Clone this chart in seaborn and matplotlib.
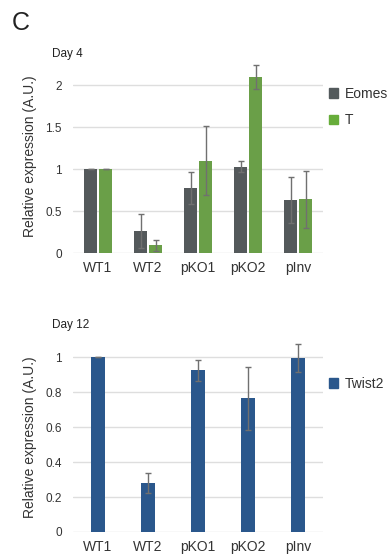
import matplotlib
matplotlib.use('Agg')
import matplotlib.pyplot as plt
import seaborn as sns
import pandas as pd
from matplotlib.patches import Patch

sns.set_style('white')
plt.rcParams['font.family'] = ['Liberation Sans', 'DejaVu Sans']

lines = ['WT1', 'WT2', 'pKO1', 'pKO2', 'pInv']

# day 4
eomes = [1.0, 0.26, 0.77, 1.03, 0.63]
eomes_err = [0.0, 0.20, 0.19, 0.07, 0.27]
t_vals = [1.0, 0.09, 1.10, 2.10, 0.64]
t_err = [0.0, 0.07, 0.41, 0.14, 0.34]

# day 12
twist2 = [1.0, 0.28, 0.925, 0.765, 0.995]
twist2_err = [0.0, 0.055, 0.06, 0.18, 0.08]

c_eomes = '#535a5c'
c_t = '#67ad3a'
c_twist = '#2a578c'
grid_c = '#dedede'
txt_c = '#333333'

df4 = pd.DataFrame({
    'line': lines * 2,
    'gene': ['Eomes'] * 5 + ['T'] * 5,
    'val': eomes + t_vals,
    'err': eomes_err + t_err,
})
df12 = pd.DataFrame({'line': lines, 'val': twist2, 'err': twist2_err})

W, H = 391, 556
fig = plt.figure(figsize=(W / 100, H / 100), dpi=100)
ax1 = fig.add_axes([73 / W, 1 - 253 / H, 250 / W, 193 / H])
ax2 = fig.add_axes([73 / W, 1 - 532 / H, 250 / W, 189 / H])


def style(ax, ticks, labels, top):
    ax.set_ylim(0, top)
    ax.set_xlim(-0.5, 4.5)
    ax.set_yticks(ticks)
    ax.set_yticklabels(labels)
    ax.grid(axis='y', color=grid_c, lw=1)
    ax.set_axisbelow(True)
    for s in ax.spines.values():
        s.set_visible(False)
    ax.tick_params(axis='y', length=0, pad=8, labelsize=8.5, labelcolor=txt_c)
    ax.tick_params(axis='x', length=0, pad=6, labelsize=10, labelcolor=txt_c)
    ax.set_xlabel('')
    ax.set_ylabel('Relative expression (A.U.)', fontsize=10, color=txt_c, labelpad=6)


# top panel
sns.barplot(data=df4, x='line', y='val', hue='gene', palette=[c_eomes, c_t],
            width=0.6, gap=0.1, errorbar=None, ax=ax1, legend=False)
for cont, g in zip(ax1.containers, ['Eomes', 'T']):
    sub = df4[df4.gene == g]
    xs = [p.get_x() + p.get_width() / 2 for p in cont.patches]
    ax1.errorbar(xs, sub.val, yerr=sub.err, fmt='none', ecolor='#707070',
                 elinewidth=1, capsize=2.5, capthick=1)
style(ax1, [0, 0.5, 1, 1.5, 2], ['0', '0.5', '1', '1.5', '2'], 2.3)
ax1.legend(handles=[Patch(color=c_eomes, label='Eomes'), Patch(color=c_t, label='T')],
           loc='upper left', bbox_to_anchor=(1.0, 0.89), frameon=False,
           handlelength=0.7, handleheight=0.7, handletextpad=0.5,
           labelspacing=0.9, fontsize=10, labelcolor=txt_c, borderaxespad=0)

# bottom panel
sns.barplot(data=df12, x='line', y='val', color=c_twist, width=0.28,
            errorbar=None, ax=ax2, saturation=1)
xs = [p.get_x() + p.get_width() / 2 for p in ax2.containers[0].patches]
ax2.errorbar(xs, df12.val, yerr=df12.err, fmt='none', ecolor='#707070',
             elinewidth=1, capsize=2.5, capthick=1)
style(ax2, [0, 0.2, 0.4, 0.6, 0.8, 1], ['0', '0.2', '0.4', '0.6', '0.8', '1'], 1.08)
ax2.legend(handles=[Patch(color=c_twist, label='Twist2')],
           loc='upper left', bbox_to_anchor=(1.0, 0.85), frameon=False,
           handlelength=0.7, handleheight=0.7, handletextpad=0.5,
           fontsize=10, labelcolor=txt_c, borderaxespad=0)

for bar in ax1.patches:
    bar.set_edgecolor('none')
for bar in ax2.patches:
    bar.set_edgecolor('none')

fig.text(12 / W, 1 - 30 / H, 'C', fontsize=18, color='#222222')
fig.text(52 / W, 1 - 57 / H, 'Day 4', fontsize=8.5, color='#222222')
fig.text(52 / W, 1 - 328 / H, 'Day 12', fontsize=8.5, color='#222222')

fig.savefig('out.png', dpi=100)
